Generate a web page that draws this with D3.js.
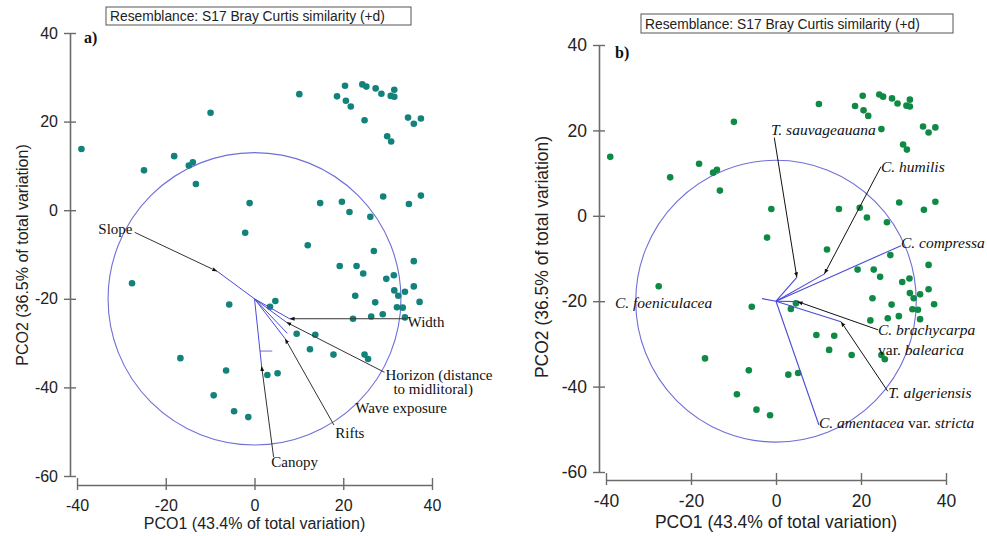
<!DOCTYPE html>
<html>
<head>
<meta charset="utf-8">
<script src="https://cdn.jsdelivr.net/npm/d3@7"></script>
<style>
  body { margin: 0; background: #fff; }
  svg { display: block; }
</style>
</head>
<body>
<div id="chart"></div>
<script>
// PCO scores (same samples in both panels)
const pcoX = [-39.0, -24.9, -18.1, -14.8, -13.9, -13.2, -9.9, -1.1, -2.1, 10.1, 12.0, 14.8, 18.6, 20.4, 20.6, 21.7,
  19.7, 21.4, 24.3, 25.2, 24.8, 27.3, 28.6, 30.7, 31.5, 31.5, 29.9, 30.8, 34.6, 35.9, 37.5, 29.0, 34.8, 37.5,
  26.1, 26.9, 35.9, 19.2, 23.0, 24.5, 29.7, 31.4, 35.9, 31.5, 32.4, 33.9, 37.2, 22.7, 27.2, 32.1, 33.4, 22.2,
  26.3, 28.9, 33.9, -27.6, -5.7, 4.7, 3.5, -16.7, -6.4, -9.2, -4.6, -1.4, 2.9, 5.2, 9.5, 13.7, 12.5, 17.8, 24.8, 25.6];
const pcoY = [13.8, 9.0, 12.2, 10.1, 10.8, 5.9, 22.0, 1.6, -5.1, 26.2, -7.9, 1.6, 25.7, 28.1, 24.7, 23.4,
  1.9, -0.4, 28.4, 27.9, 20.3, 27.5, 26.3, 25.8, 25.6, 27.2, 16.7, 15.5, 20.9, 19.5, 20.7, 3.1, 1.4, 3.3,
  -1.5, -9.2, -11.5, -12.6, -12.6, -14.3, -15.5, -14.7, -17.2, -18.1, -19.3, -18.4, -20.7, -19.3, -20.8, -21.9, -22.0, -24.5,
  -24.0, -23.5, -24.2, -16.5, -21.3, -20.5, -21.8, -33.4, -36.2, -41.8, -45.4, -46.7, -37.2, -36.8, -27.9, -28.1, -31.4, -32.6, -32.6, -33.6];

const ticks = [-40, -20, 0, 20, 40];
const yTicks = [-60, -40, -20, 0, 20, 40];
const origin = [0, -20];
const circleR = 33;

// panel a: environmental vectors
const envNames = ["Slope", "Width", "Horizon", "Rifts", "Wave exposure", "Canopy"];
const envTipX = [-8.4, 7.9, 7.2, 6.9, 7.4, 1.6];
const envTipY = [-13.8, -24.5, -25.3, -29.0, -27.8, -35.2];
const envLeadX = [-27.0, 34.2, 29.3, 17.9, null, 4.3];
const envLeadY = [-5.0, -24.5, -36.6, -48.5, null, -55.7];
const envLabX = [-27.5, 34.5, 29.5, 18.2, 22.7, 3.8];
const envLabY = [-5.4, -26.4, -38.4, -51.5, -45.8, -58.0];

// panel b: species vectors
const spNames = ["T. sauvageauana", "C. humilis", "C. compressa", "C. brachycarpa", "T. algeriensis", "C. amentacea", "C. foeniculacea"];
const spTipX = [4.9, 11.4, 29.4, 5.1, 15.3, 10.1, -3.3];
const spTipY = [-14.4, -13.6, -7.0, -20.1, -24.8, -49.0, -19.4];
const spLeadX = [-0.4, 24.7, null, 24.0, 26.3, null, null];
const spLeadY = [18.3, 11.5, null, -26.7, -41.1, null, null];
const spLabX = [-1.2, 24.7, 29.4, 24.0, 26.4, 10.1, -37.9];
const spLabY = [19.0, 10.3, -7.5, -27.9, -42.6, -49.6, -21.5];

const W = 987, H = 536;
const svg = d3.select("#chart").append("svg")
    .attr("width", W)
    .attr("height", H);

const defs = svg.append("defs");
defs.append("marker")
    .attr("id", "tip")
    .attr("viewBox", "0 0 10 10")
    .attr("refX", 10).attr("refY", 5)
    .attr("markerWidth", 5).attr("markerHeight", 5)
    .attr("orient", "auto")
  .append("path")
    .attr("d", "M0,1L10,5L0,9z")
    .attr("fill", "#111");

const blue = "#4b4bd6";
const fmt = d => String(d);   // plain hyphen for negatives, as in the original

function panel(opt) {
  const x = d3.scaleLinear().domain([-40, 40]).range(opt.xr);
  const y = d3.scaleLinear().domain([-60, 40]).range(opt.yr);
  const g = svg.append("g");

  // title box
  g.append("rect")
      .attr("x", opt.box[0]).attr("y", opt.box[1])
      .attr("width", opt.box[2]).attr("height", opt.box[3])
      .attr("fill", "#fff").attr("stroke", "#555").attr("stroke-width", 1);
  g.append("text")
      .attr("x", opt.box[0] + 4).attr("y", opt.box[1] + opt.box[3] - 4.5)
      .attr("font-family", "Liberation Sans, Arial, sans-serif")
      .attr("font-size", 13.8).attr("fill", "#222")
      .text("Resemblance: S17 Bray Curtis similarity (+d)");

  // axes
  const ax = g.append("g")
      .attr("transform", `translate(0,${opt.xAxisY})`)
      .call(d3.axisBottom(x).tickValues(ticks).tickSizeOuter(0).tickPadding(9).tickFormat(fmt));
  const ay = g.append("g")
      .attr("transform", `translate(${opt.yAxisX},0)`)
      .call(d3.axisLeft(y).tickValues(yTicks).tickSizeOuter(0).tickPadding(6).tickFormat(fmt));
  [ax, ay].forEach(a => {
    a.select(".domain").attr("stroke", "#6b6b6b").attr("stroke-width", 1.6);
    a.selectAll(".tick line").attr("stroke", "#6b6b6b").attr("stroke-width", 1.4);
    a.selectAll(".tick text")
        .attr("font-family", "Liberation Sans, Arial, sans-serif")
        .attr("font-size", opt.fs).attr("fill", "#222");
  });
  ax.selectAll(".tick line").attr("y1", -7).attr("y2", 5);
  ay.selectAll(".tick line").attr("x1", 6).attr("x2", -6);

  g.append("text")
      .attr("x", x(0)).attr("y", opt.xTitleY)
      .attr("text-anchor", "middle")
      .attr("font-family", "Liberation Sans, Arial, sans-serif")
      .attr("font-size", opt.fs).attr("fill", "#222")
      .text("PCO1 (43.4% of total variation)");
  g.append("text")
      .attr("transform", `translate(${opt.yTitleX},${opt.yTitleC}) rotate(-90)`)
      .attr("text-anchor", "middle")
      .attr("font-family", "Liberation Sans, Arial, sans-serif")
      .attr("font-size", opt.fs).attr("fill", "#222")
      .text("PCO2 (36.5% of total variation)");

  g.append("text")
      .attr("x", opt.tag[0]).attr("y", opt.tag[1])
      .attr("font-family", "Liberation Serif, Times New Roman, serif")
      .attr("font-weight", "bold").attr("font-size", 16).attr("fill", "#111")
      .text(opt.tagText);

  // correlation circle
  g.append("ellipse")
      .attr("cx", x(origin[0])).attr("cy", y(origin[1]))
      .attr("rx", x(circleR) - x(0)).attr("ry", y(0) - y(circleR))
      .attr("fill", "none").attr("stroke", "#6f6fd8").attr("stroke-width", 1.1);

  // points
  g.append("g").selectAll("circle")
    .data(d3.range(pcoX.length))
    .join("circle")
      .attr("cx", i => x(pcoX[i]))
      .attr("cy", i => y(pcoY[i]))
      .attr("r", 3.3)
      .attr("fill", opt.dot);

  return {g, x, y};
}

// ---- panel a
const A = panel({
  xr: [77, 432], yr: [476, 33], xAxisY: 485, yAxisX: 70, fs: 16,
  box: [106, 7, 305, 18], xTitleY: 529, yTitleX: 28, yTitleC: 255,
  tag: [84, 43], tagText: "a)", dot: "#13827a"
});

envNames.forEach((n, i) => {
  A.g.append("line")
      .attr("x1", A.x(origin[0])).attr("y1", A.y(origin[1]))
      .attr("x2", A.x(envTipX[i])).attr("y2", A.y(envTipY[i]))
      .attr("stroke", blue).attr("stroke-width", 1);
  if (envLeadX[i] !== null) {
    A.g.append("line")
        .attr("x1", A.x(envLeadX[i])).attr("y1", A.y(envLeadY[i]))
        .attr("x2", A.x(envTipX[i])).attr("y2", A.y(envTipY[i]))
        .attr("stroke", "#333").attr("stroke-width", 1)
        .attr("marker-end", "url(#tip)");
  }
  const t = A.g.append("text")
      .attr("x", A.x(envLabX[i])).attr("y", A.y(envLabY[i]))
      .attr("text-anchor", n === "Slope" ? "end" : "start")
      .attr("font-family", "Liberation Serif, Times New Roman, serif")
      .attr("font-size", 15).attr("fill", "#111");
  if (n === "Horizon") {
    t.append("tspan").text("Horizon (distance");
    t.append("tspan").attr("x", A.x(envLabX[i]) + 8).attr("dy", 13.5).text("to midlitoral)");
  } else {
    t.text(n);
  }
});
// small dash near canopy vector
A.g.append("line")
    .attr("x1", A.x(1.2)).attr("x2", A.x(4.0))
    .attr("y1", A.y(-31.8)).attr("y2", A.y(-31.8))
    .attr("stroke", blue).attr("stroke-width", 0.8);

// ---- panel b
const B = panel({
  xr: [606, 946], yr: [472, 45], xAxisY: 480, yAxisX: 599, fs: 17.5,
  box: [641, 14, 312, 19], xTitleY: 528, yTitleX: 548, yTitleC: 257,
  tag: [615, 58], tagText: "b)", dot: "#0f8a45"
});

spNames.forEach((n, i) => {
  B.g.append("line")
      .attr("x1", B.x(origin[0])).attr("y1", B.y(origin[1]))
      .attr("x2", B.x(spTipX[i])).attr("y2", B.y(spTipY[i]))
      .attr("stroke", blue).attr("stroke-width", 1.1);
  if (spLeadX[i] !== null) {
    B.g.append("line")
        .attr("x1", B.x(spLeadX[i])).attr("y1", B.y(spLeadY[i]))
        .attr("x2", B.x(spTipX[i])).attr("y2", B.y(spTipY[i]))
        .attr("stroke", "#111").attr("stroke-width", 1)
        .attr("marker-end", "url(#tip)");
  }
  const t = B.g.append("text")
      .attr("x", B.x(spLabX[i])).attr("y", B.y(spLabY[i]))
      .attr("font-family", "Liberation Serif, Times New Roman, serif")
      .attr("font-size", 15.5).attr("fill", "#111");
  t.append("tspan").attr("font-style", "italic").text(n);
  if (n === "C. brachycarpa") {
    t.append("tspan").attr("x", B.x(spLabX[i])).attr("dy", 20).text("var. ");
    t.append("tspan").attr("font-style", "italic").text("balearica");
  }
  if (n === "C. amentacea") {
    t.append("tspan").text(" var. ");
    t.append("tspan").attr("font-style", "italic").text("stricta");
  }
});
</script>
</body>
</html>
